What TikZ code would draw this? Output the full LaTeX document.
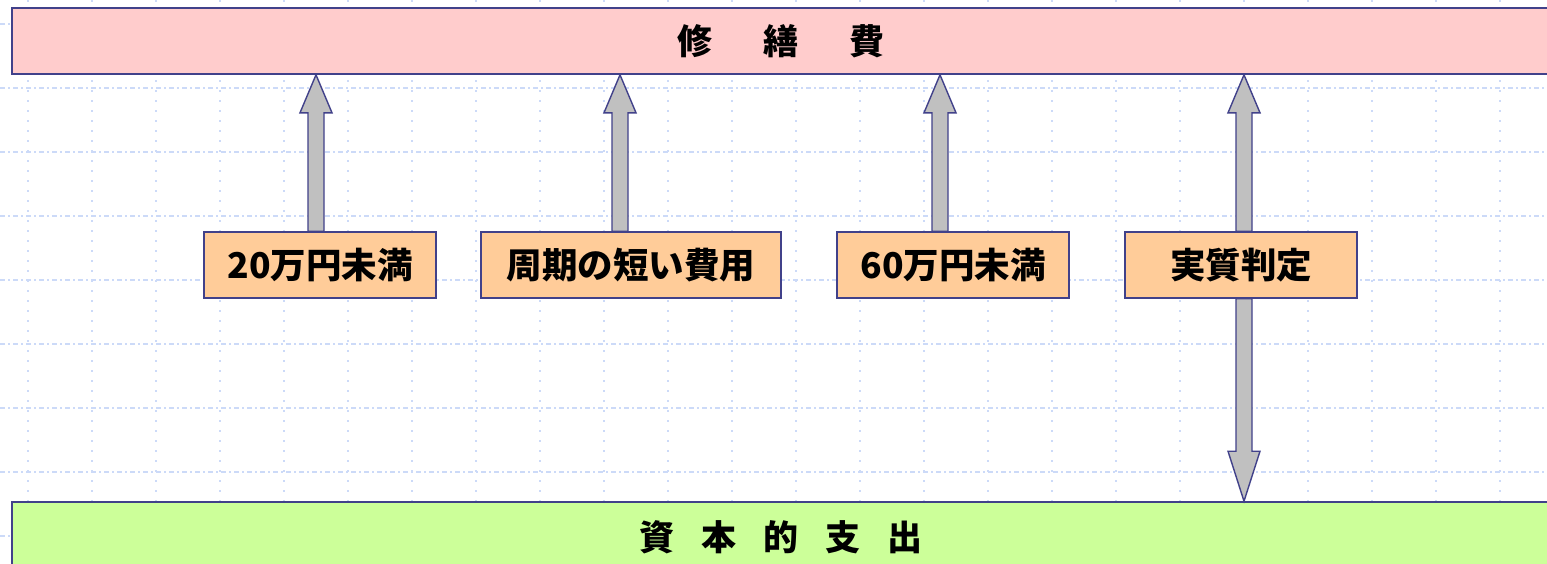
\documentclass[tikz,border=0pt]{standalone}
\usepackage{fontspec}
\setmainfont{Noto Sans CJK JP}
\usetikzlibrary{calc}
\definecolor{edge}{HTML}{41418A}
\definecolor{gridc}{HTML}{CCDAF8}
\definecolor{topfill}{HTML}{FFCCCC}
\definecolor{botfill}{HTML}{CCFF99}
\definecolor{labfill}{HTML}{FFCC99}
\definecolor{arrfill}{HTML}{C0C0C0}
\tikzset{
  band/.style={draw=edge, line width=1.6pt, inner sep=0pt, minimum width=1538pt, font=\fontsize{35}{40}\selectfont\bfseries},
  labbox/.style={draw=edge, fill=labfill, line width=1.4pt, inner sep=0pt, minimum height=66pt, font=\fontsize{35.5}{40}\selectfont\bfseries},
  fatarrow/.style={draw=edge, fill=arrfill, line width=1.4pt, line join=miter},
  vgrid/.style={gridc, line width=1.6pt, dash pattern=on 2pt off 8pt},
  hgrid/.style={gridc, line width=1.6pt, dash pattern=on 5pt off 3pt on 2pt off 3pt}
}
\begin{document}
\begin{tikzpicture}[x=1pt,y=-1pt]
\clip (0,0) rectangle (1547,563);
\fill[white] (0,0) rectangle (1547,563);
% grid
\foreach \gx in {28,92,...,1547} \draw[vgrid] (\gx,0) -- (\gx,563);
\foreach \gy in {24,88,...,563} \draw[hgrid] (0,\gy) -- (1547,\gy);
% bands
\node[band, fill=topfill, minimum height=66pt] (top) at (781,41) {修\hspace{51pt}繕\hspace{51pt}費};
\node[band, fill=botfill, minimum height=70pt] (bot) at (781,537) {資\hspace{27pt}本\hspace{27pt}的\hspace{27pt}支\hspace{27pt}出};
% labels
\node[labbox, minimum width=232pt] (l1) at (320,265) {20万円未満};
\node[labbox, minimum width=300pt] (l2) at (631,265) {周期の短い費用};
\node[labbox, minimum width=232pt] (l3) at (953,265) {60万円未満};
\node[labbox, minimum width=232pt] (l4) at (1241,265) {実質判定};
% arrow positions
\coordinate (c1) at (316,0);
\coordinate (c2) at (620,0);
\coordinate (c3) at (940,0);
\coordinate (c4) at (1244,0);
\foreach \c/\l in {c1/l1,c2/l2,c3/l3,c4/l4}{
  \draw[fatarrow] (\c|-top.south) -- ++(16,38) -- ++(-8,0) -- ($(\c|-\l.north)+(8,0)$) -- ++(-16,0) -- ($(\c|-top.south)+(-8,38)$) -- ++(-8,0) -- cycle;
}
\draw[fatarrow] (c4|-bot.north) -- ++(16,-50) -- ++(-8,0) -- ($(c4|-l4.south)+(8,0)$) -- ++(-16,0) -- ($(c4|-bot.north)+(-8,-50)$) -- ++(-8,0) -- cycle;
\end{tikzpicture}
\end{document}
